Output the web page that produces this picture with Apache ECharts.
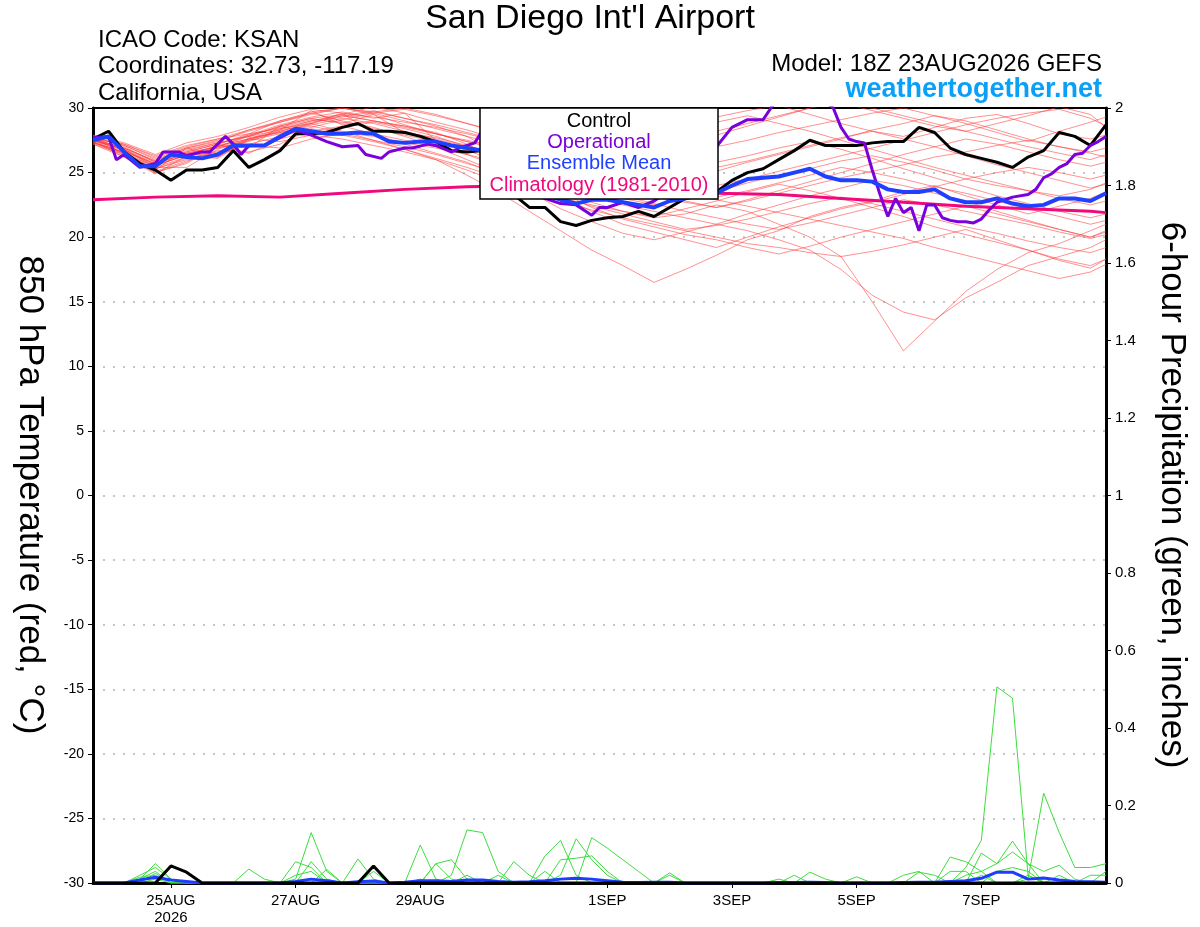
<!DOCTYPE html>
<html>
<head>
<meta charset="utf-8">
<script src="https://cdn.jsdelivr.net/npm/echarts@6/dist/echarts.min.js"></script>
<style>
  html, body { margin: 0; padding: 0; background: #fff; }
  #chart { width: 1200px; height: 927px; }
</style>
</head>
<body>
<div id="chart"></div>
<script>
// hours since 18Z 23AUG2026
var tickHours = [30, 78, 126, 198, 246, 294, 342];
var tickLabels = ['25AUG\n2026', '27AUG', '29AUG', '1SEP', '3SEP', '5SEP', '7SEP'];

// 6-hourly steps 0..390
var sixHours = [];
for (var h = 0; h <= 390; h += 6) sixHours.push(h);
// 12-hourly steps for ensemble members
var memberHours = [0,12,24,36,48,60,72,84,96,108,120,132,144,156,168,180,192,204,216,228,240,252,264,276,288,300,312,324,336,348,360,372,384,390];

var controlTemp = [
  27.6,28.2,26.6,25.7,25.2,24.4,25.2,25.2,25.4,26.7,25.4,
  26.0,26.7,28.0,28.0,28.1,28.5,28.8,28.2,28.2,28.1,27.8,
  27.4,26.7,26.6,26.7,24.8,23.3,22.3,22.3,21.2,20.9,21.3,
  21.5,21.6,22.0,21.6,22.3,23.0,23.2,23.5,24.4,25.0,25.3,
  26.0,26.7,27.5,27.1,27.1,27.1,27.3,27.4,27.4,28.5,28.1,
  26.9,26.4,26.1,25.8,25.4,26.2,26.7,28.1,27.8,27.1,28.7
];
var meanTemp = [
  27.5,27.8,26.6,25.5,25.5,26.4,26.2,26.1,26.4,27.1,27.1,
  27.1,27.8,28.4,28.2,28.0,28.0,28.1,28.0,27.4,27.3,27.4,
  27.4,27.1,26.9,26.7,25.8,24.8,23.9,23.3,22.9,22.6,22.9,
  22.9,22.7,22.5,22.3,22.8,23.0,23.3,23.4,24.0,24.5,24.6,
  24.7,25.0,25.3,24.7,24.4,24.4,24.3,23.7,23.5,23.5,23.7,
  23.0,22.7,22.7,23.0,22.6,22.4,22.5,23.0,23.0,22.8,23.4
];

var opHours = [0,6,9,12,18,24,27,33,36,42,45,51,54,57,60,66,72,78,84,90,96,102,105,111,114,120,123,129,132,138,141,147,150,
  156,162,168,174,180,186,192,195,198,204,210,216,222,228,234,240,246,252,258,261,264,270,276,282,285,288,291,294,297,
  300,303,306,309,312,315,318,321,324,327,330,333,336,339,342,345,348,354,360,363,366,369,372,375,378,381,384,387,390];
var opTemp = [27.7,27.8,26.0,26.4,25.4,25.7,26.6,26.6,26.3,26.6,26.6,27.8,27.2,26.4,27.1,27.1,27.7,28.3,27.9,27.4,27.0,27.1,26.4,26.1,26.6,26.9,26.9,27.2,27.1,26.6,26.9,27.3,28.3,
  27.0,25.5,24.0,23.0,22.6,22.5,21.7,22.3,22.3,22.7,22.3,22.8,23.6,25.0,26.4,27.0,28.5,29.1,29.1,30.0,30.8,31.5,31.3,30.5,30.0,28.5,27.6,27.4,27.3,
  25.2,23.3,21.6,23.0,21.9,22.3,20.5,22.5,22.5,21.5,21.3,21.2,21.2,21.1,21.4,22.1,22.7,23.1,23.3,23.7,24.6,24.9,25.4,25.7,26.4,26.5,27.1,27.4,27.8];

var climHours = [0,24,48,72,96,120,144,168,192,216,240,264,288,312,336,360,384,390];
var climTemp = [22.9,23.1,23.2,23.1,23.4,23.7,23.9,24.0,23.9,23.6,23.4,23.3,23.0,22.7,22.4,22.2,22.0,21.9];

// ensemble members, 850 hPa temperature (12-hourly)
var members = [
  [27.5,26.8,25.6,26.5,27.0,27.8,28.6,29.2,29.5,29.0,28.6,28.0,27.5,27.0,26.8,26.5,26.8,27.5,28.2,28.8,29.3,29.8,30.2,29.5,28.8,28.2,27.8,28.5,29.2,29.5,28.8,28.0,27.6,27.9],
  [27.6,26.5,25.2,26.9,26.2,27.5,28.0,28.8,28.2,27.5,26.8,26.0,24.8,23.5,22.0,20.5,19.0,17.8,16.5,17.5,18.6,19.8,20.5,21.6,22.3,22.8,23.5,24.0,23.2,22.5,21.8,22.4,23.0,23.5],
  [27.8,27.0,25.8,26.6,27.2,28.0,29.0,29.6,29.0,28.5,27.8,27.0,26.0,25.0,24.0,23.0,22.5,22.0,21.5,21.8,22.5,22.0,21.0,20.0,18.5,15.0,11.2,13.5,15.8,17.5,18.8,19.5,20.5,21.0],
  [27.3,26.6,25.4,26.2,26.9,27.4,28.2,28.8,29.4,29.8,29.2,28.6,27.8,26.5,25.2,24.0,23.2,22.5,22.0,21.5,21.0,20.5,19.8,19.0,17.5,15.5,14.2,13.6,15.3,16.5,17.8,18.5,19.2,19.8],
  [27.5,26.9,25.9,26.9,27.4,28.3,28.9,29.5,30.0,29.6,29.0,28.4,27.8,27.2,26.5,26.0,25.4,25.8,26.5,27.2,27.9,28.6,29.3,30.0,30.4,29.8,29.2,28.6,28.2,28.8,29.4,30.1,29.5,28.5],
  [27.6,27.2,26.2,27.0,27.6,28.0,28.4,28.8,29.6,28.0,27.5,27.0,26.4,25.5,24.8,24.0,23.5,23.0,22.5,23.0,23.5,24.2,24.8,25.3,25.9,26.3,25.8,25.2,24.5,24.0,23.6,23.0,22.5,22.8],
  [27.4,26.3,25.0,25.8,27.2,26.5,27.6,28.2,28.6,28.0,27.2,26.5,25.8,24.8,23.5,22.2,21.2,20.3,19.8,20.4,21.0,21.8,22.5,23.2,23.8,24.4,24.0,23.4,22.8,22.0,21.3,20.6,20.0,20.4],
  [27.9,27.3,26.4,27.3,27.8,28.5,29.3,29.9,29.6,29.3,28.9,28.5,28.0,27.4,26.8,26.0,25.2,24.6,24.1,24.6,25.1,25.8,26.4,27.0,27.6,28.3,28.8,29.4,29.0,28.3,27.6,27.0,26.5,26.2],
  [27.2,26.2,24.9,26.3,26.1,27.6,27.4,27.9,27.6,27.1,26.6,26.0,25.2,24.3,23.5,22.8,22.1,21.5,21.0,20.5,20.0,19.5,19.2,18.8,18.5,18.9,19.4,20.0,20.6,19.8,19.0,18.2,17.6,18.3],
  [27.6,26.7,25.5,26.4,27.0,27.9,28.5,29.1,28.9,28.4,27.9,27.4,26.9,26.2,25.5,24.8,24.2,23.6,23.1,22.7,22.3,22.8,23.4,24.0,24.6,25.1,25.6,26.2,26.6,27.1,27.5,27.0,26.6,26.9],
  [27.7,27.1,26.0,26.8,27.3,27.8,28.3,29.8,28.7,29.0,28.6,28.1,27.2,26.0,24.6,23.2,22.0,21.0,20.4,19.8,19.2,20.0,20.8,21.5,22.2,22.7,23.3,23.9,24.5,25.0,25.4,25.0,24.5,24.8],
  [27.5,26.4,25.3,26.1,26.6,27.2,27.8,28.5,29.1,29.6,29.9,29.4,28.8,28.2,27.6,27.0,26.6,27.2,27.8,28.4,28.9,29.4,28.8,28.2,27.5,26.8,26.1,25.4,24.8,24.2,23.6,23.2,23.7,24.2],
  [27.3,26.6,25.7,26.5,26.2,27.7,28.1,28.6,28.1,27.8,27.3,26.9,26.4,25.8,25.1,24.4,23.8,23.2,22.6,22.0,21.5,21.0,20.6,21.1,21.7,22.3,22.9,22.5,22.0,21.5,21.0,20.4,19.9,20.2],
  [27.8,27.1,26.1,26.9,27.5,28.2,28.9,29.6,30.0,29.5,28.7,28.0,27.4,26.9,26.3,25.7,25.0,25.4,25.9,26.4,27.0,27.5,28.1,28.6,29.1,29.6,30.0,29.4,28.8,28.1,27.4,28.2,28.9,29.3],
  [27.4,26.5,25.1,25.9,26.7,26.6,27.2,28.4,27.9,27.4,26.8,26.1,25.4,24.6,23.8,23.1,22.4,21.8,21.2,20.6,20.9,21.4,22.0,22.6,23.1,22.6,22.0,21.4,20.8,20.3,19.7,19.2,18.8,19.2],
  [27.6,26.9,25.8,26.6,27.2,27.9,28.7,29.3,29.7,29.2,29.6,27.5,26.7,25.9,25.1,24.3,23.6,24.0,24.6,25.2,25.8,26.3,26.9,27.4,26.8,26.1,25.3,24.6,23.9,23.2,22.6,22.0,21.5,21.8],
  [27.5,26.7,25.6,26.3,26.9,27.5,28.3,29.0,29.5,30.1,29.6,28.9,28.3,27.6,26.9,26.2,25.5,24.8,24.2,23.6,23.1,23.6,24.2,24.8,25.4,25.0,24.5,23.9,23.4,22.8,22.2,21.6,21.0,21.3],
  [27.7,26.8,25.4,25.4,26.8,27.6,28.1,28.7,29.2,28.8,28.2,27.6,27.0,26.4,25.8,25.2,24.7,24.2,23.8,23.3,22.9,22.4,21.9,21.4,20.9,20.4,19.9,19.2,18.6,18.0,17.4,16.8,17.3,17.9],
  [27.2,26.4,25.5,26.4,27.1,27.6,28.2,28.9,29.3,29.7,30.0,29.5,28.8,28.1,27.5,26.9,26.2,25.6,25.0,24.5,24.0,24.5,25.1,25.7,26.3,26.9,27.5,28.1,28.7,29.2,29.6,29.9,29.2,28.6],
  [27.6,26.9,25.9,26.7,27.3,27.8,28.6,29.2,28.8,29.5,28.1,27.7,27.1,26.4,25.7,25.0,24.4,23.8,23.3,22.8,22.3,22.9,23.6,24.3,25.0,25.7,26.4,27.0,27.6,27.2,26.6,26.0,25.5,25.8],
  [27.4,26.2,25.0,25.7,27.1,26.9,28.6,28.0,28.5,28.9,28.4,27.8,27.0,25.9,24.7,23.5,22.3,21.4,20.8,20.2,19.8,19.2,18.7,19.3,20.0,20.6,21.2,21.8,22.4,21.8,21.2,20.6,20.0,20.5],
  [27.9,27.2,26.3,27.1,27.6,28.3,29.0,29.7,30.0,29.7,29.2,28.7,28.1,27.5,26.9,26.3,25.6,25.0,24.5,24.9,25.4,25.9,26.5,27.1,27.7,28.2,27.6,27.0,26.3,25.6,25.0,24.4,23.8,24.1],
  [27.3,26.5,25.3,26.0,26.5,27.1,26.9,27.6,28.0,27.5,27.0,26.4,25.7,25.0,24.2,23.4,22.7,22.0,21.6,22.2,22.8,23.5,24.1,23.6,23.0,22.3,21.6,20.8,20.2,19.6,19.0,18.3,17.8,18.3],
  [27.5,26.8,25.7,26.5,27.0,27.6,28.4,29.0,29.4,29.0,28.5,28.0,27.4,26.8,26.1,25.5,25.9,26.4,27.0,27.6,28.2,28.8,29.4,30.0,30.5,30.0,29.4,28.8,28.2,27.6,27.0,26.5,26.0,26.4]
];

// ensemble members, 6-hour precipitation (inches, 6-hourly)
var precipMembers = [
  [0,0,0,0.01,0.03,0,0,0,0,0,0, 0,0,0.01,0.13,0.03,0,0,0,0,0,0, 0,0.02,0.137,0.13,0.03,0,0,0,0,0,0,
   0,0,0,0,0,0,0,0,0,0,0, 0,0,0,0,0,0,0,0,0,0,0, 0,0.04,0.11,0.506,0.477,0.02,0,0,0,0,0],
  [0,0,0,0.01,0.05,0.01,0,0,0,0,0, 0,0,0.055,0.04,0,0,0,0,0,0,0.098, 0.01,0,0,0,0,0,0,0,0.02,0.114,0.06,
   0.02,0,0,0,0,0,0,0,0,0,0, 0,0,0,0,0,0,0,0,0,0,0, 0.067,0.055,0.03,0,0,0.01,0.232,0.13,0.04,0.04,0.05],
  [0,0,0,0.02,0.04,0.01,0,0,0,0,0, 0,0,0,0.055,0.01,0,0.062,0.01,0,0,0, 0.05,0.06,0.01,0,0,0,0,0.07,0.11,0.02,0,
   0,0,0,0,0,0,0,0,0,0,0, 0,0.02,0,0,0,0,0,0,0,0.028,0.02, 0,0,0.077,0.05,0.108,0.05,0.03,0.046,0.01,0,0],
  [0,0,0,0,0.025,0,0,0,0,0,0.036, 0.01,0,0,0,0,0,0,0,0,0,0, 0.05,0.01,0,0,0,0.055,0.02,0,0,0,0.117,
   0.09,0.06,0.03,0,0,0,0,0,0,0,0, 0,0,0,0,0,0.016,0,0,0,0,0, 0,0.02,0.03,0.05,0.08,0.05,0,0,0,0.02,0.02],
  [0,0,0,0.015,0.02,0,0,0,0,0,0, 0,0,0,0,0.035,0,0,0,0,0,0, 0,0,0,0,0.02,0,0,0,0.06,0.064,0.07,
   0.03,0,0,0,0.026,0,0,0,0,0,0, 0.01,0,0,0,0,0,0,0,0,0,0, 0.03,0.03,0,0.03,0.04,0.03,0,0.02,0,0,0],
  [0,0,0,0,0.01,0,0,0,0,0,0, 0,0,0.02,0.03,0,0,0,0.03,0,0,0.01, 0,0,0.02,0,0,0,0,0.03,0,0,0,
   0,0,0,0,0.02,0,0,0,0,0,0, 0,0,0.028,0.01,0,0,0,0,0.02,0.03,0, 0,0,0.02,0,0,0.02,0,0,0,0,0.03]
];
var controlPrecip = [0,0,0,0,0,0.044,0.028,0,0,0,0, 0,0,0,0,0,0,0,0.044,0,0,0, 0,0,0,0,0,0,0,0,0,0,0,
  0,0,0,0,0,0,0,0,0,0,0, 0,0,0,0,0,0,0,0,0,0,0, 0,0,0,0,0,0,0,0,0,0,0];
var meanPrecip = [0,0,0,0.008,0.015,0.008,0.004,0,0,0,0, 0,0,0.004,0.01,0.006,0,0.003,0.005,0,0.002,0.006,
  0.006,0.004,0.008,0.008,0.004,0.002,0.003,0.006,0.01,0.012,0.01, 0.006,0.002,0.001,0.002,0.002,0,0,0,0,0,0,
  0.001,0.001,0.002,0.001,0,0,0,0,0.001,0.002,0.002, 0.004,0.006,0.012,0.028,0.028,0.01,0.013,0.008,0.004,0.003,0.002];

var FONT = "'Liberation Sans', Arial, Helvetica, sans-serif";

function pairs(xs, ys) {
  return xs.map(function (x, i) { return [x, ys[i]]; });
}
function lineSeries(data, color, width, yIdx) {
  return {
    type: 'line', data: data, yAxisIndex: yIdx || 0,
    showSymbol: false, silent: true, animation: false,
    lineStyle: { color: color, width: width }
  };
}
function label(text, x, y, size, color, align, extra) {
  var el = { type: 'text', x: x, y: y, style: { text: text, font: size + 'px ' + FONT, fill: color || '#000',
    textAlign: align || 'left', textVerticalAlign: 'middle' } };
  for (var k in extra) el[k] = extra[k];
  return el;
}

var series = [];
members.forEach(function (m) {
  series.push(lineSeries(pairs(memberHours, m), 'rgba(255,55,55,0.55)', 1));
});
precipMembers.forEach(function (p) {
  series.push(lineSeries(pairs(sixHours, p), '#3fdc3f', 1, 1));
});
series.push(lineSeries(pairs(sixHours, meanPrecip), '#1e3cff', 3, 1));
series.push(lineSeries(pairs(sixHours, controlPrecip), '#000', 3, 1));
series.push(lineSeries(pairs(climHours, climTemp), '#f0087c', 3));
series.push(lineSeries(pairs(sixHours, controlTemp), '#000', 3));
series.push(lineSeries(pairs(opHours, opTemp), '#7a00dc', 3));
series.push(lineSeries(pairs(sixHours, meanTemp), '#2040ff', 4));

var chart = echarts.init(document.getElementById('chart'));
chart.setOption({
  animation: false,
  backgroundColor: '#fff',
  grid: { left: 93, right: 94, top: 108, bottom: 44, show: true, borderColor: '#000', borderWidth: 2 },
  xAxis: {
    type: 'value', min: 0, max: 390,
    axisLine: { show: true, onZero: false, lineStyle: { color: '#000', width: 3 } },
    axisTick: { show: true, customValues: tickHours, length: 5, lineStyle: { color: '#000' } },
    axisLabel: {
      customValues: tickHours, color: '#000', fontFamily: FONT, fontSize: 15, lineHeight: 17, margin: 9,
      formatter: function (v) { var i = tickHours.indexOf(v); return i >= 0 ? tickLabels[i] : ''; }
    },
    splitLine: { show: false }
  },
  yAxis: [{
    type: 'value', min: -30, max: 30, interval: 5,
    axisLine: { show: true, onZero: false, lineStyle: { color: '#000', width: 3 } },
    axisTick: { show: true, length: 5, lineStyle: { color: '#000' } },
    axisLabel: { color: '#000', fontFamily: FONT, fontSize: 14, margin: 9 },
    splitLine: { show: true, showMinLine: false, showMaxLine: false,
      lineStyle: { color: '#b4b4b4', type: [2, 8], width: 1.5 } }
  }, {
    type: 'value', min: 0, max: 2, interval: 0.2, position: 'right',
    axisLine: { show: true, onZero: false, lineStyle: { color: '#000', width: 3 } },
    axisTick: { show: true, length: 5, lineStyle: { color: '#000' } },
    axisLabel: { color: '#000', fontFamily: FONT, fontSize: 15, margin: 9,
      formatter: function (v) { return String(+v.toFixed(1)); } },
    splitLine: { show: false }
  }],
  series: series,
  graphic: [
    label("San Diego Int'l Airport", 590, 19, 34, '#000', 'center'),
    label('ICAO Code: KSAN', 98, 40, 24),
    label('Coordinates: 32.73, -117.19', 98, 66, 24),
    label('California, USA', 98, 93, 24),
    label('Model: 18Z 23AUG2026 GEFS', 1102, 64, 24, '#000', 'right'),
    { type: 'text', x: 1102, y: 90, style: { text: 'weathertogether.net', font: 'bold 27px ' + FONT, fill: '#0aa0f8', textAlign: 'right', textVerticalAlign: 'middle' } },
    label('850 hPa Temperature (red, °C)', 30, 495, 35, '#000', 'center', { rotation: -Math.PI / 2 }),
    label('6-hour Precipitation (green, inches)', 1172, 495, 35, '#000', 'center', { rotation: -Math.PI / 2 }),
    // legend box
    { type: 'rect', z: 100, shape: { x: 480, y: 108, width: 238, height: 91 }, style: { fill: '#fff', stroke: '#000', lineWidth: 1.5 } },
    label('Control', 599, 121, 20, '#000', 'center', { z: 101 }),
    label('Operational', 599, 142, 20, '#7a00dc', 'center', { z: 101 }),
    label('Ensemble Mean', 599, 163, 20, '#2040ff', 'center', { z: 101 }),
    label('Climatology (1981-2010)', 599, 185, 20, '#f0087c', 'center', { z: 101 })
  ]
});
</script>
</body>
</html>
